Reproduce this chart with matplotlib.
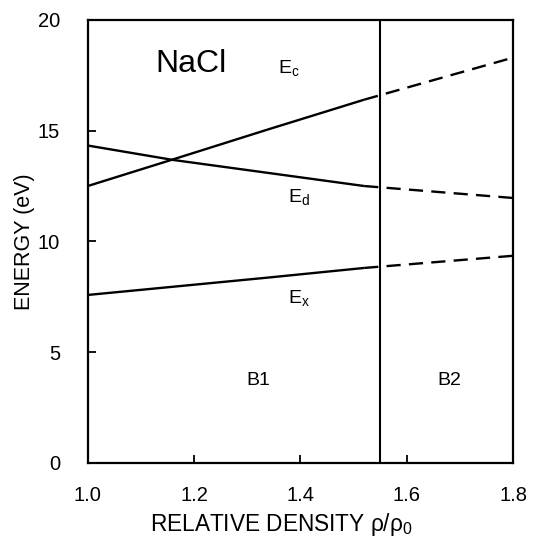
import matplotlib
matplotlib.use("Agg")
import matplotlib.pyplot as plt

plt.rcParams['font.family'] = ['Liberation Sans', 'DejaVu Sans']
plt.rcParams['mathtext.fontset'] = 'custom'
plt.rcParams['mathtext.rm'] = 'Liberation Sans'
plt.rcParams['mathtext.it'] = 'Liberation Sans'

# solid (B1) and dashed (B2 extrapolation) segments
x_solid = [1.0, 1.16, 1.337, 1.52]
ec_solid = [12.5, 13.7, 15.04, 16.4]
ed_solid = [14.33, 13.68, 13.1, 12.5]
ex_solid = [7.58, 7.95, 8.36, 8.8]

x_dash = [1.52, 1.8]
ec_dash = [16.4, 18.3]
ed_dash = [12.5, 11.96]
ex_dash = [8.8, 9.35]

transition = 1.55
xticks = [1.0, 1.2, 1.4, 1.6, 1.8]
yticks = [0, 5, 10, 15, 20]

fig = plt.figure(figsize=(5.35, 5.4), dpi=100)
ax = fig.add_axes([0.164, 0.143, 0.795, 0.82])

for ys in (ec_solid, ed_solid, ex_solid):
    ax.plot(x_solid, ys, color='black', lw=1.7, solid_capstyle='butt')
for ys in (ec_dash, ed_dash, ex_dash):
    ax.plot(x_dash, ys, color='black', lw=1.7, dashes=(6, 3.5))
ax.axvline(transition, color='black', lw=1.5)

ax.set_xlim(1.0, 1.8)
ax.set_ylim(0, 20)
ax.set_xticks(xticks)
ax.set_xticklabels(['%.1f' % v for v in xticks])
ax.set_yticks(yticks)
ax.tick_params(direction='in', length=6, width=1.3, labelsize=14.5)
ax.tick_params(axis='x', pad=17)
ax.tick_params(axis='y', pad=20)
for s in ax.spines.values():
    s.set_linewidth(1.6)

ax.text(1.195, 18.0, 'NaCl', fontsize=23, ha='center', va='center')
ax.text(1.378, 17.85, r'$\mathregular{E_c}$', fontsize=14, ha='center', va='center')
ax.text(1.397, 12.0, r'$\mathregular{E_d}$', fontsize=14, ha='center', va='center')
ax.text(1.398, 7.45, r'$\mathregular{E_x}$', fontsize=14, ha='center', va='center')
ax.text(1.32, 3.7, 'B1', fontsize=14, ha='center', va='center')
ax.text(1.68, 3.7, 'B2', fontsize=14, ha='center', va='center')

ax.set_ylabel('ENERGY (eV)', fontsize=15.5)
ax.yaxis.set_label_coords(-0.125, 0.5)
ax.set_xlabel(r'RELATIVE DENSITY $\mathregular{\rho/\rho_0}$', fontsize=16.3)
ax.xaxis.set_label_coords(0.455, -0.108)

fig.savefig('out.png', dpi=100)
